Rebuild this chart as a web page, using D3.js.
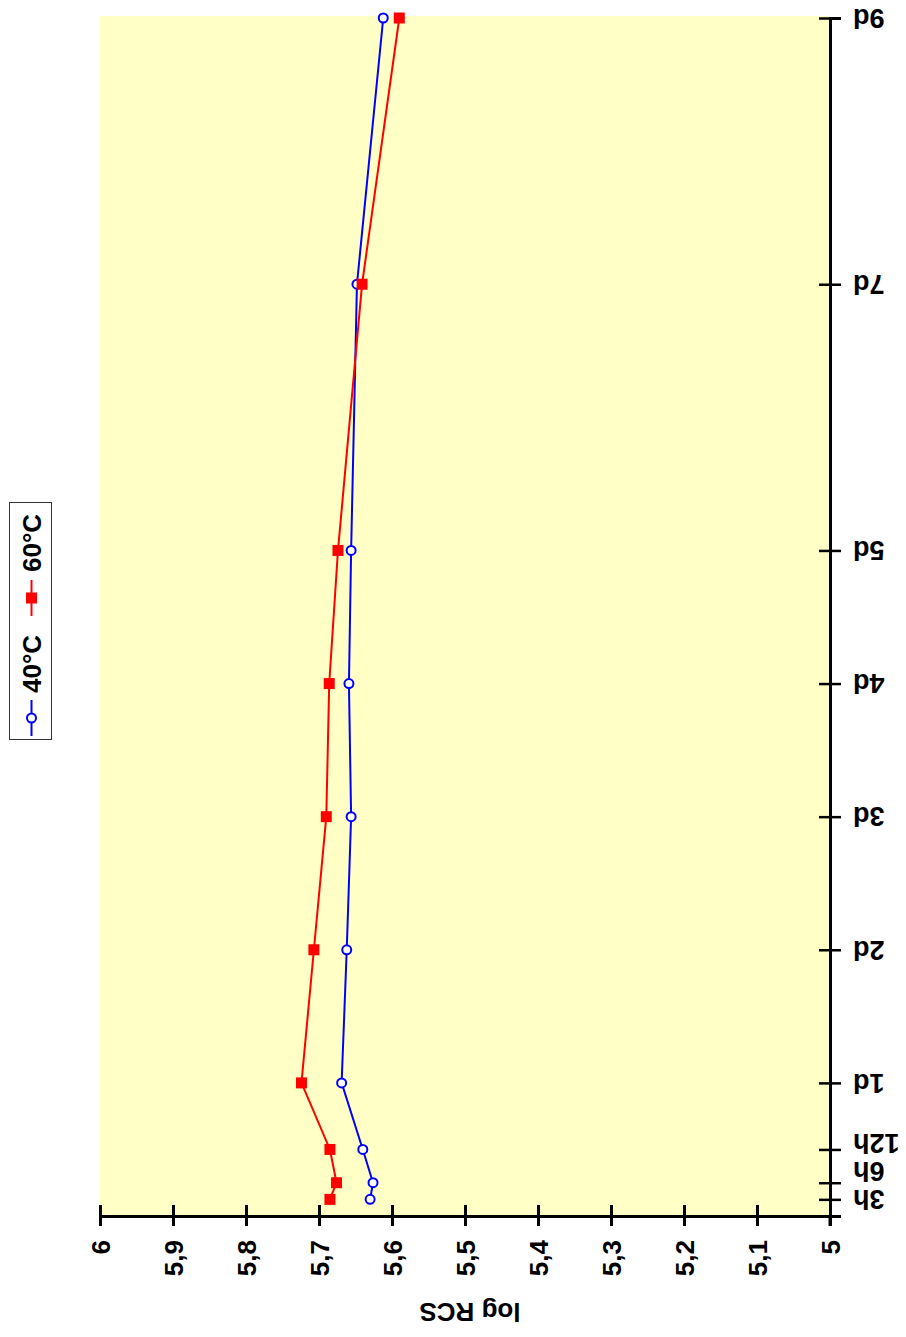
<!DOCTYPE html>
<html>
<head>
<meta charset="utf-8">
<script src="https://cdn.jsdelivr.net/npm/d3@7"></script>
<style>
  html, body { margin: 0; padding: 0; background: #ffffff; }
  svg { display: block; }
  text { font-family: "Liberation Sans", Arial, sans-serif; font-weight: bold; fill: #000; }
</style>
</head>
<body>
<svg id="chart" width="906" height="1337"></svg>
<script>
// ---- data ----
const timeHours = [3, 6, 12, 24, 48, 72, 96, 120, 168, 216];
const timeTickLabels = ["3h", "6h", "12h", "1d", "2d", "3d", "4d", "5d", "7d", "9d"];
const series40 = [5.630, 5.626, 5.640, 5.669, 5.662, 5.656, 5.659, 5.656, 5.648, 5.612];
const series60 = [5.685, 5.676, 5.685, 5.724, 5.707, 5.690, 5.686, 5.674, 5.641, 5.590];
const valueTicks = [5, 5.1, 5.2, 5.3, 5.4, 5.5, 5.6, 5.7, 5.8, 5.9, 6];
const valueTickLabels = ["5", "5,1", "5,2", "5,3", "5,4", "5,5", "5,6", "5,7", "5,8", "5,9", "6"];
const seriesNames = ["40°C", "60°C"];
const valueTitle = "log RCS";

// ---- layout ----
const svg = d3.select("#chart");
const pLeft = 100, pRight = 830, pTop = 18, pBottom = 1216;

const x = d3.scaleLinear().domain([5, 6]).range([pRight, pLeft]);
const y = d3.scaleLinear().domain([0, 216]).range([pBottom, pTop]);

// plot background
svg.append("rect")
  .attr("x", pLeft).attr("y", pTop - 2)
  .attr("width", pRight - pLeft).attr("height", pBottom - pTop + 2)
  .attr("fill", "#ffffc6");

// value axis (bottom)
const gx = svg.append("g").attr("transform", `translate(0,${pBottom})`)
  .call(d3.axisBottom(x).tickValues(valueTicks)
    .tickFormat((d, i) => valueTickLabels[i]).tickSizeOuter(0).tickSize(10));
gx.select(".domain").attr("stroke", "#000").attr("stroke-width", 3);
gx.selectAll(".tick line").attr("y1", -11).attr("y2", 10)
  .attr("stroke", "#000").attr("stroke-width", 3);
gx.selectAll(".tick text")
  .attr("x", 0).attr("y", 0).attr("dy", "0.36em")
  .attr("text-anchor", "end")
  .attr("transform", "translate(0,24) rotate(-90)")
  .style("font-size", "26px").style("font-family", "'Liberation Sans', Arial, sans-serif")
  .style("font-weight", "bold");

// time axis (right)
const gy = svg.append("g").attr("transform", `translate(${pRight},0)`)
  .call(d3.axisRight(y).tickValues(timeHours)
    .tickFormat((d, i) => timeTickLabels[i]).tickSizeOuter(0).tickSize(11));
gy.select(".domain").attr("stroke", "#000").attr("stroke-width", 3);
gy.selectAll(".tick line").attr("x1", -11).attr("x2", 11)
  .attr("stroke", "#000").attr("stroke-width", 2.5);

// label de-overlap (from bottom upward)
const labelY = timeHours.map(h => y(h));
for (let i = 1; i < labelY.length; i++) {
  if (labelY[i - 1] - labelY[i] < 28) labelY[i] = labelY[i - 1] - 28;
}
gy.selectAll(".tick text")
  .attr("x", 0).attr("y", 0).attr("dy", "0.36em")
  .attr("text-anchor", "end")
  .attr("transform", (d, i) => `translate(23,${labelY[i] - y(d)}) rotate(180)`)
  .style("font-size", "27px").style("font-family", "'Liberation Sans', Arial, sans-serif")
  .style("font-weight", "bold");

// bottom extension of right axis to meet tick of "5"
svg.append("line").attr("x1", pRight).attr("x2", pRight)
  .attr("y1", pBottom).attr("y2", pBottom + 10)
  .attr("stroke", "#000").attr("stroke-width", 3);

// value axis title
svg.append("text")
  .attr("transform", `translate(${(pLeft + pRight) / 2 + 5},1303) rotate(180)`)
  .attr("text-anchor", "middle")
  .style("font-size", "26px")
  .text(valueTitle);

// lines
const line = d3.line().x(d => x(d[1])).y(d => y(d[0]));
const d40 = timeHours.map((h, i) => [h, series40[i]]);
const d60 = timeHours.map((h, i) => [h, series60[i]]);

svg.append("path").datum(d40).attr("d", line)
  .attr("fill", "none").attr("stroke", "#0000ff").attr("stroke-width", 2);
svg.selectAll(".c40").data(d40).enter().append("circle")
  .attr("cx", d => x(d[1])).attr("cy", d => y(d[0])).attr("r", 4.5)
  .attr("fill", "#fff").attr("stroke", "#0000ff").attr("stroke-width", 2);

svg.append("path").datum(d60).attr("d", line)
  .attr("fill", "none").attr("stroke", "#ff0000").attr("stroke-width", 2);
svg.selectAll(".s60").data(d60).enter().append("rect")
  .attr("x", d => x(d[1]) - 5.5).attr("y", d => y(d[0]) - 5.5)
  .attr("width", 11).attr("height", 11)
  .attr("fill", "#ff0000");

// legend
const lg = svg.append("g");
lg.append("rect").attr("x", 9.5).attr("y", 502.5).attr("width", 42).attr("height", 237)
  .attr("fill", "#fff").attr("stroke", "#333").attr("stroke-width", 1);
const legendItems = [
  { name: seriesNames[0], color: "#0000ff", cy: 718, ty: 693, shape: "circle" },
  { name: seriesNames[1], color: "#ff0000", cy: 598, ty: 572, shape: "square" }
];
legendItems.forEach(it => {
  lg.append("line").attr("x1", 31.5).attr("x2", 31.5)
    .attr("y1", it.cy - 18).attr("y2", it.cy + 18)
    .attr("stroke", it.color).attr("stroke-width", 2);
  if (it.shape === "circle") {
    lg.append("circle").attr("cx", 31.5).attr("cy", it.cy).attr("r", 4.5)
      .attr("fill", "#fff").attr("stroke", it.color).attr("stroke-width", 2);
  } else {
    lg.append("rect").attr("x", 26).attr("y", it.cy - 5.5).attr("width", 11).attr("height", 11)
      .attr("fill", it.color);
  }
  lg.append("text")
    .attr("transform", `translate(32,${it.ty}) rotate(-90)`)
    .attr("dy", "0.36em")
    .attr("text-anchor", "start")
    .style("font-size", "26px")
    .text(it.name);
});
</script>
</body>
</html>
